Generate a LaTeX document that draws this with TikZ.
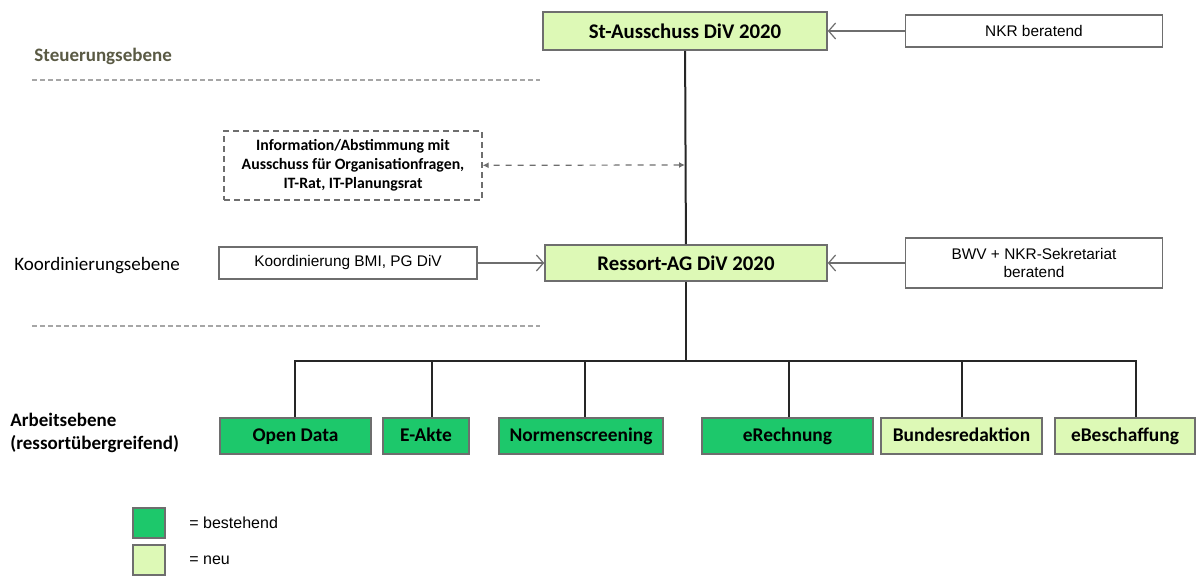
\documentclass[tikz,border=0pt]{standalone}
\usepackage{fontspec}
\setmainfont{Carlito}
\newfontfamily\arialfont{Liberation Sans}
\usepackage{tikz}
\usetikzlibrary{arrows.meta}

\definecolor{altgruen}{HTML}{1DC86B}
\definecolor{neugruen}{HTML}{DDF9B6}
\definecolor{rahmen}{HTML}{6E6E6E}
\definecolor{ebene}{HTML}{5A5A44}
\definecolor{trenn}{HTML}{A6A6A6}

\tikzset{
  gremium/.style={draw=rahmen,fill=neugruen,line width=0.8pt,font=\fontsize{10.4}{12}\selectfont\bfseries,inner sep=0pt},
  berater/.style={draw=rahmen,fill=white,line width=0.6pt,font=\arialfont\fontsize{7.7}{9}\selectfont,align=center,inner sep=0pt},
  projekt/.style={draw=rahmen,line width=0.6pt,minimum height=18pt,font=\fontsize{9.7}{11}\selectfont\bfseries,
                  inner sep=0pt,text height=1.6ex,text depth=0.45ex},
  bestehend/.style={projekt,fill=altgruen},
  neu/.style={projekt,fill=neugruen},
  pfeil/.style={draw=rahmen,line width=0.6pt,-{Straight Barb[length=3.5pt,width=8pt]}},
  trennlinie/.style={draw=trenn,line width=1pt,dash pattern=on 2.5pt off 1.5pt},
  ebenentext/.style={anchor=west,font=\fontsize{9.5}{12}\selectfont,align=left,inner sep=0pt}
}

\begin{document}
\begin{tikzpicture}[x=0.5pt,y=-0.5pt]
\useasboundingbox (0,0) rectangle (1199,576);

% Ebenen
\node[ebenentext,text=ebene,font=\fontsize{9.5}{12}\selectfont\bfseries] (steuerung) at (34,56) {Steuerungsebene};
\node[ebenentext] (koordinierung) at (14,266) {Koordinierungsebene};
\node[ebenentext,font=\fontsize{9.5}{11.5}\selectfont\bfseries] (arbeit) at (10,433) {Arbeitsebene\\(ressortübergreifend)};
\draw[trennlinie] (32,80) -- (540,80);
\draw[trennlinie] (32,326) -- (540,326);

% Gremien
\node[gremium,minimum width=142pt,minimum height=19pt] (stausschuss) at (685,31) {St-Ausschuss DiV 2020};
\node[gremium,minimum width=141pt,minimum height=18pt] (ressortag) at (686,263) {Ressort-AG DiV 2020};
\node[berater,minimum width=128.5pt,minimum height=16pt] (nkr) at (1034,31) {NKR beratend};
\node[berater,minimum width=128.5pt,minimum height=25pt] (bwv) at (1034,263) {BWV + NKR-Sekretariat\\beratend};
\node[berater,minimum width=129pt,minimum height=16pt] (bmi) at (348,263) {Koordinierung BMI, PG DiV};
\node[draw=rahmen,densely dashed,line width=0.6pt,minimum width=129pt,minimum height=34.5pt,align=center,inner sep=0pt,
      font=\fontsize{7.9}{9.4}\selectfont\bfseries] (info) at (353,165.5)
      {Information/Abstimmung mit\\Ausschuss für Organisationfragen,\\IT-Rat, IT-Planungsrat};

\draw[pfeil] (nkr) -- (stausschuss);
\draw[pfeil] (bwv) -- (ressortag);
\draw[pfeil] (bmi) -- (ressortag);
\draw[black!85,line width=1pt] (stausschuss) -- (ressortag);
\coordinate (abstimmung) at (685,165);
\draw[rahmen,dashed,line width=0.6pt,{Latex[length=3pt,width=3pt]}-{Latex[length=3pt,width=3pt]}] (abstimmung) -- (info);

% Arbeitsebene
\node[bestehend,minimum width=75.5pt] (opendata) at (295.5,436) {Open Data};
\node[bestehend,minimum width=43pt] (eakte) at (426,436) {E-Akte};
\node[bestehend,minimum width=82pt] (normen) at (581,436) {Normenscreening};
\node[bestehend,minimum width=85.5pt] (erechnung) at (787.5,436) {eRechnung};
\node[neu,minimum width=80.5pt] (bundesred) at (961.5,436) {Bundesredaktion};
\node[neu,minimum width=70pt] (ebeschaffung) at (1125,436) {eBeschaffung};

\coordinate (verteiler) at (686,361);
\draw[black!85,line width=1pt] (ressortag) -- (verteiler);
\foreach \Box/\dx in {opendata/-1,eakte/6,normen/4,erechnung/1,bundesred/0,ebeschaffung/11}
    \draw[black!85,line width=1pt] (verteiler) -| ([xshift=\dx*0.5pt]\Box.north);

% Legende
\node[draw=rahmen,fill=altgruen,line width=0.6pt,minimum width=16pt,minimum height=15pt,inner sep=0pt] (legalt) at (149,523) {};
\node[draw=rahmen,fill=neugruen,line width=0.6pt,minimum width=16pt,minimum height=15pt,inner sep=0pt] (legneu) at (149,560) {};
\node[anchor=west,font=\arialfont\fontsize{8}{9}\selectfont,inner sep=0pt] (txtalt) at (189,523) {= bestehend};
\node[anchor=west,font=\arialfont\fontsize{8}{9}\selectfont,inner sep=0pt] (txtneu) at (189,560) {= neu};
\end{tikzpicture}
\end{document}
